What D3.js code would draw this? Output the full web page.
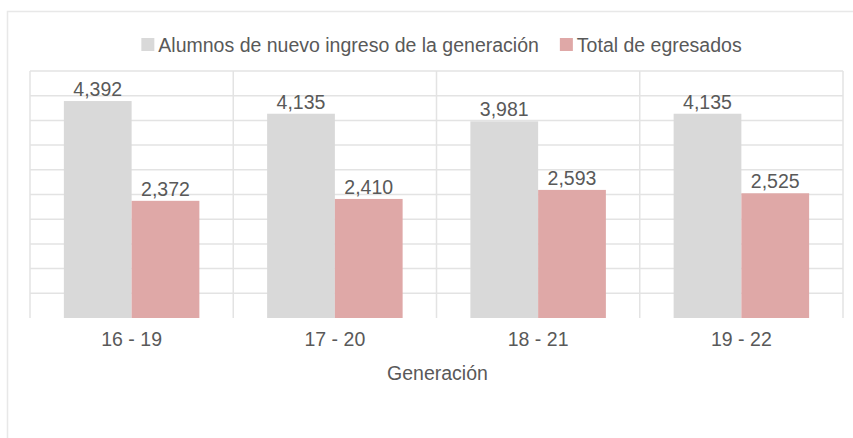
<!DOCTYPE html>
<html>
<head>
<meta charset="utf-8">
<script src="https://cdn.jsdelivr.net/npm/d3@7"></script>
<style>
  body { margin: 0; background: #fff; }
  text { font-family: "Liberation Sans", Arial, sans-serif; fill: #595959; }
</style>
</head>
<body>
<svg id="chart" width="853" height="438"></svg>
<script>
// data
var generaciones = ["16 - 19", "17 - 20", "18 - 21", "19 - 22"];
var series = ["Alumnos de nuevo ingreso de la generación", "Total de egresados"];
var nuevoIngreso = [4392, 4135, 3981, 4135];
var egresados = [2372, 2410, 2593, 2525];
var yTicks = [500, 1000, 1500, 2000, 2500, 3000, 3500, 4000, 4500, 5000];

var colors = ["#d9d9d9", "#dfa8a7"];

var svg = d3.select("#chart"),
    plotLeft = 30, plotRight = 843, plotTop = 71, plotBottom = 318;

// card border
svg.append("rect")
    .attr("x", 7.5).attr("y", 11.5)
    .attr("width", 900).attr("height", 500)
    .attr("fill", "none")
    .attr("stroke", "#e8e8e8")
    .attr("stroke-width", 1.5);

var x0 = d3.scaleBand().domain(generaciones).range([plotLeft, plotRight]).padding(0);
var x1 = d3.scaleBand().domain(series).range([0, x0.bandwidth()]).paddingInner(0).paddingOuter(0.5);
var y = d3.scaleLinear().domain([0, 5000]).range([plotBottom, plotTop]);

// horizontal grid
svg.append("g").selectAll("line")
    .data(yTicks)
    .enter().append("line")
    .attr("x1", plotLeft).attr("x2", plotRight)
    .attr("y1", function(d) { return y(d); })
    .attr("y2", function(d) { return y(d); })
    .attr("stroke", "#e3e3e3")
    .attr("stroke-width", 1.5);

// vertical separators between categories
var seps = generaciones.map(function(g) { return x0(g); }).concat([plotRight]);
svg.append("g").selectAll("line")
    .data(seps)
    .enter().append("line")
    .attr("x1", function(d) { return d; })
    .attr("x2", function(d) { return d; })
    .attr("y1", plotTop).attr("y2", plotBottom)
    .attr("stroke", "#e3e3e3")
    .attr("stroke-width", 1.5);

var rows = generaciones.map(function(g, i) {
    return { gen: g, values: [nuevoIngreso[i], egresados[i]] };
});

var groups = svg.append("g").selectAll("g")
    .data(rows)
    .enter().append("g")
    .attr("transform", function(d) { return "translate(" + x0(d.gen) + ",0)"; });

var bars = groups.selectAll("g")
    .data(function(d) {
        return d.values.map(function(v, j) { return { s: series[j], v: v, j: j }; });
    })
    .enter().append("g");

bars.append("rect")
    .attr("x", function(d) { return x1(d.s); })
    .attr("y", function(d) { return y(d.v); })
    .attr("width", x1.bandwidth())
    .attr("height", function(d) { return plotBottom - y(d.v); })
    .attr("fill", function(d) { return colors[d.j]; });

bars.append("text")
    .attr("x", function(d) { return x1(d.s) + x1.bandwidth() / 2; })
    .attr("y", function(d) { return y(d.v) - 5; })
    .attr("text-anchor", "middle")
    .style("font-size", "19.5px")
    .text(function(d) { return d3.format(",")(d.v); });

// category labels
svg.append("g").selectAll("text")
    .data(generaciones)
    .enter().append("text")
    .attr("x", function(d) { return x0(d) + x0.bandwidth() / 2; })
    .attr("y", 346)
    .attr("text-anchor", "middle")
    .style("font-size", "19.5px")
    .text(function(d) { return d; });

// axis title
svg.append("text")
    .attr("x", (plotLeft + plotRight) / 2 + 1)
    .attr("y", 380)
    .attr("text-anchor", "middle")
    .style("font-size", "19.5px")
    .text("Generación");

// legend, centred over the plot
var legend = svg.append("g");
var items = legend.selectAll("g")
    .data(series)
    .enter().append("g");

items.append("rect")
    .attr("width", 13).attr("height", 13)
    .attr("y", 38)
    .attr("fill", function(d, i) { return colors[i]; });

items.append("text")
    .attr("x", 17)
    .attr("y", 51.5)
    .style("font-size", "19.5px")
    .text(function(d) { return d; });

var pos = 0, offsets = [];
items.each(function() {
    offsets.push(pos);
    pos += 17 + d3.select(this).select("text").node().getComputedTextLength() + 21;
});
var total = pos - 21;
var start = (plotLeft + plotRight) / 2 - total / 2 + 5;
items.attr("transform", function(d, i) { return "translate(" + (start + offsets[i]) + ",0)"; });
</script>
</body>
</html>
